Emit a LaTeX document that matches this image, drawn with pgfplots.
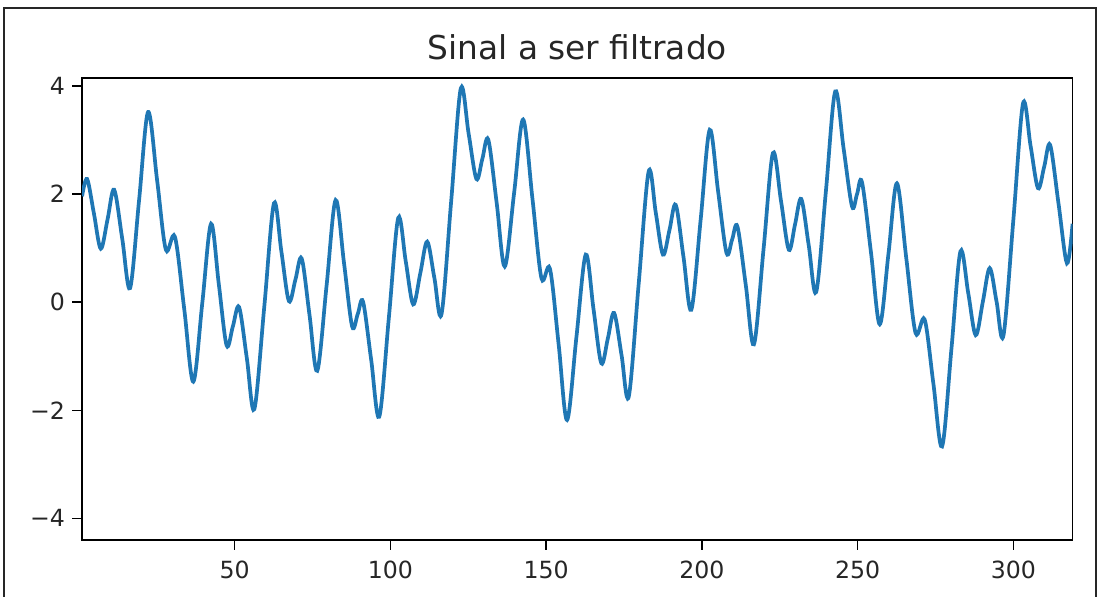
\documentclass[border=0pt]{standalone}
\usepackage{pgfplots}
\pgfplotsset{compat=1.18}
\usepackage{fontspec}
\setmainfont{DejaVu Sans}
\definecolor{mplblue}{HTML}{1F77B4}

\begin{document}
\begin{tikzpicture}
\useasboundingbox (0pt,0pt) rectangle (623.6pt,338.4pt);
\draw[line width=1.1pt,black!85] (2.3pt,0pt) -- (2.3pt,333.9pt) -- (621.3pt,333.9pt) -- (621.3pt,0pt);
\begin{axis}[
  at={(46.54pt,32.31pt)}, anchor=south west,
  scale only axis,
  width=561.5pt, height=261.9pt,
  xmin=1, xmax=319, ymin=-4.4, ymax=4.15,
  xtick={50,100,150,200,250,300},
  xticklabels={50,100,150,200,250,300},
  ytick={-4,-2,0,2,4},
  yticklabels={−4,−2,0,2,4},
  xtick pos=left, ytick pos=left,
  tick align=outside,
  major tick length=5.5pt,
  tick style={black, line width=0.8pt},
  axis line style={black, line width=0.8pt},
  ticklabel style={font=\fontsize{13.4}{15}\selectfont, text=black!85},
  xticklabel style={yshift=-3pt},
  yticklabel style={xshift=-0.7pt},
  title={Sinal a ser filtrado},
  title style={font=\fontsize{18.6}{21}\selectfont, text=black!85, at={(0.5,1)}, anchor=base, yshift=4.5pt},
]
\addplot[mplblue, line width=2.1pt, smooth, tension=0.55] coordinates {
(1,1.96) (2.6,2.28) (4.8,1.64) (7.0,0.99) (9.2,1.54) (11.3,2.08) (13.9,1.17)
(16.4,0.26) (19.3,1.89) (22.2,3.52) (25.1,2.25) (27.9,0.97) (30.8,1.21)
(33.8,-0.13) (36.7,-1.47) (39.6,-0.01) (42.4,1.45) (44.9,0.33) (47.4,-0.80)
(49.4,-0.45) (51.4,-0.09) (53.9,-1.04) (56.3,-1.98) (59.5,-0.08) (62.6,1.83)
(65.0,0.93) (67.4,0.02) (69.5,0.42) (71.5,0.81) (74.0,-0.23) (76.5,-1.27)
(79.5,0.31) (82.4,1.89) (85.1,0.72) (87.7,-0.45) (89.5,-0.22) (91.2,0.01)
(93.8,-1.06) (96.4,-2.12) (99.5,-0.28) (102.5,1.56) (104.9,0.76) (107.3,-0.04)
(109.6,0.54) (111.8,1.12) (114.1,0.45) (116.4,-0.22) (119.5,1.87) (122.6,3.96)
(125.1,3.12) (127.6,2.28) (129.5,2.65) (131.4,3.01) (134.1,1.84) (136.7,0.66)
(139.7,2.02) (142.6,3.38) (145.6,1.91) (148.5,0.44) (151.2,0.62) (154.0,-0.78)
(156.7,-2.18) (159.7,-0.65) (162.7,0.88) (165.2,-0.13) (167.7,-1.13)
(169.8,-0.67) (171.8,-0.20) (174.2,-0.98) (176.5,-1.75) (179.7,0.34)
(182.9,2.42) (185.2,1.65) (187.5,0.88) (189.6,1.34) (191.6,1.80) (194.1,0.83)
(196.6,-0.14) (199.6,1.53) (202.5,3.19) (205.2,2.05) (207.9,0.91) (209.7,1.16)
(211.4,1.40) (214.1,0.31) (216.7,-0.78) (219.8,0.99) (222.8,2.76) (225.4,1.87)
(227.9,0.97) (229.9,1.44) (231.9,1.91) (234.3,1.05) (236.7,0.19) (239.8,2.05)
(242.8,3.90) (245.5,2.84) (248.2,1.77) (249.8,2.00) (251.4,2.22) (254.3,0.91)
(257.1,-0.41) (259.9,0.90) (262.6,2.20) (265.6,0.82) (268.6,-0.57)
(271.5,-0.32) (274.3,-1.50) (277.1,-2.67) (280.1,-0.87) (283.0,0.94)
(285.5,0.17) (287.9,-0.61) (290.2,0.01) (292.4,0.63) (294.6,0.01)
(296.8,-0.62) (300.0,1.53) (303.1,3.68) (305.5,2.90) (307.9,2.11)
(309.9,2.51) (311.8,2.91) (314.5,1.82) (317.2,0.72) (319,1.45)
};
\end{axis}
\end{tikzpicture}
\end{document}
